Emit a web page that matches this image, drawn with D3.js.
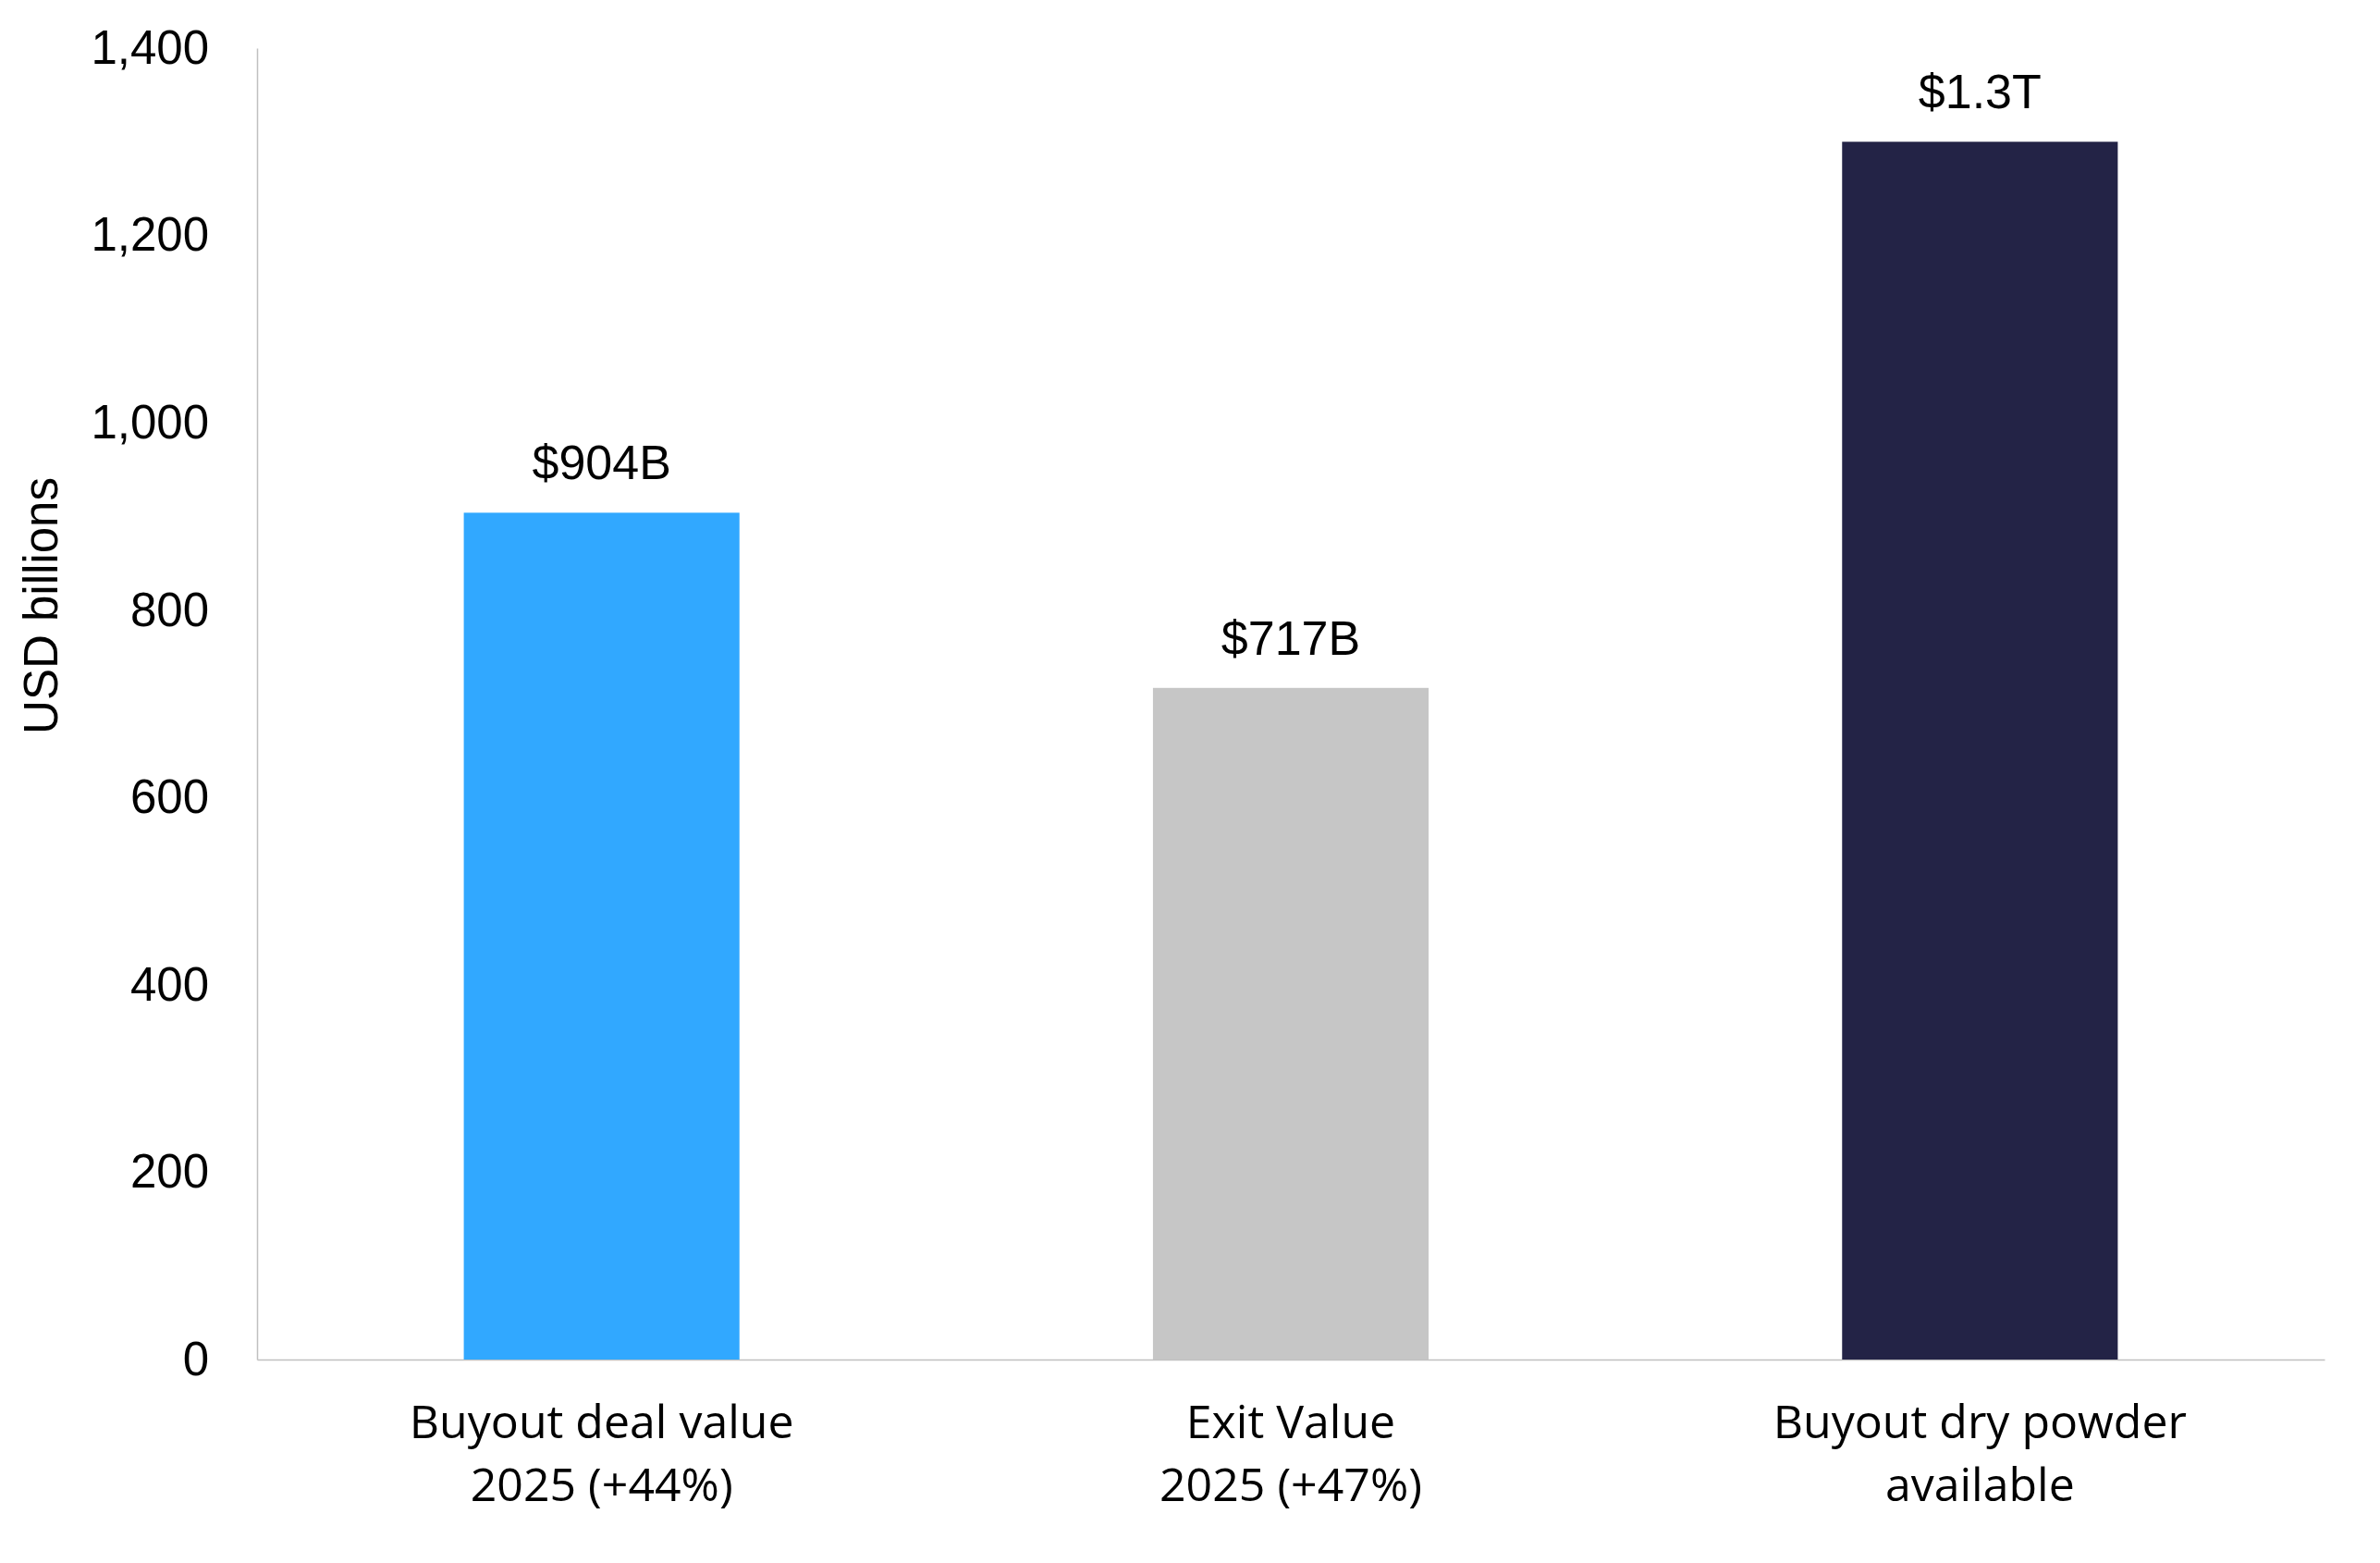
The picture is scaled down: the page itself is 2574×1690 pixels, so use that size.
<!DOCTYPE html>
<html>
<head>
<meta charset="utf-8">
<script src="https://cdn.jsdelivr.net/npm/d3@7"></script>
<style>
    body { margin: 0; background: #fff; }
    .axis text { fill: #000; }
</style>
</head>
<body>
<div class="bar-chart-container"></div>
<script>
// Chart values
let categories = ["Buyout deal value", "Exit Value", "Buyout dry powder"]
let categoryLines = [
    ["Buyout deal value", "2025 (+44%)"],
    ["Exit Value", "2025 (+47%)"],
    ["Buyout dry powder", "available"]
]
let values = [904, 717, 1300]
let valueLabels = ["$904B", "$717B", "$1.3T"]
let yTicks = [0, 200, 400, 600, 800, 1000, 1200, 1400]

let colors = ["#31a8ff", "#c6c6c6", "#232346"]

const W = 2574
const H = 1690
const margin = { top: 52, right: 60, bottom: 220, left: 278 }
const width = W - margin.left - margin.right
const height = H - margin.top - margin.bottom

const svg = d3.select('.bar-chart-container')
    .append('svg')
    .attr('width', W)
    .attr('height', H)

const g = svg.append('g')
    .attr('transform', `translate(${margin.left}, ${margin.top})`)

const xScale = d3.scaleBand()
    .domain(categories)
    .range([0, width])
    .paddingInner(0.6)
    .paddingOuter(0.3)

const yScale = d3.scaleLinear()
    .domain([0, 1400])
    .range([height, 0])

// y axis
const yAxis = d3.axisLeft(yScale)
    .tickValues(yTicks)
    .tickSize(0)
    .tickSizeOuter(0)
    .tickPadding(52)
    .tickFormat(d3.format(','))

const yAxisDraw = g.append('g')
    .attr('class', 'y axis')
    .call(yAxis)

yAxisDraw.select('.domain')
    .attr('stroke', '#c0c0c0')
    .attr('stroke-width', 1.5)

yAxisDraw.selectAll('text')
    .style('font-family', '"Liberation Sans", Arial, sans-serif')
    .style('font-size', '51px')

// x axis
const xAxis = d3.axisBottom(xScale).tickSize(0).tickSizeOuter(0).tickFormat('')

const xAxisDraw = g.append('g')
    .attr('class', 'x axis')
    .attr('transform', `translate(0, ${height})`)
    .call(xAxis)

xAxisDraw.select('.domain')
    .attr('stroke', '#c0c0c0')
    .attr('stroke-width', 1.5)

xAxisDraw.selectAll('.tick').each(function(d, i) {
    let t = d3.select(this).append('text')
        .attr('text-anchor', 'middle')
        .style('font-family', '"Open Sans", sans-serif')
        .style('font-size', '50px')
        .attr('fill', '#000')
    categoryLines[i].forEach((line, j) => {
        t.append('tspan')
            .attr('x', 0)
            .attr('y', 85 + j * 68)
            .text(line)
    })
})

// bars
g.append('g')
    .attr('class', 'bars')
    .selectAll('.bar')
    .data(values)
    .join('rect')
    .attr('class', 'bar')
    .attr('x', (d, i) => xScale(categories[i]))
    .attr('width', xScale.bandwidth())
    .attr('y', d => yScale(d))
    .attr('height', d => height - yScale(d))
    .style('fill', (d, i) => colors[i])

// value labels
g.append('g')
    .attr('class', 'labels')
    .selectAll('text')
    .data(values)
    .join('text')
    .attr('x', (d, i) => xScale(categories[i]) + xScale.bandwidth() / 2)
    .attr('y', d => yScale(d) - 36)
    .attr('text-anchor', 'middle')
    .style('font-family', '"Liberation Sans", Arial, sans-serif')
    .style('font-size', '52px')
    .attr('fill', '#000')
    .text((d, i) => valueLabels[i])

// y axis title
svg.append('text')
    .attr('transform', 'translate(62, 655) rotate(-90)')
    .attr('text-anchor', 'middle')
    .style('font-family', '"Liberation Sans", Arial, sans-serif')
    .style('font-size', '51px')
    .attr('fill', '#000')
    .text('USD billions')
</script>
</body>
</html>
